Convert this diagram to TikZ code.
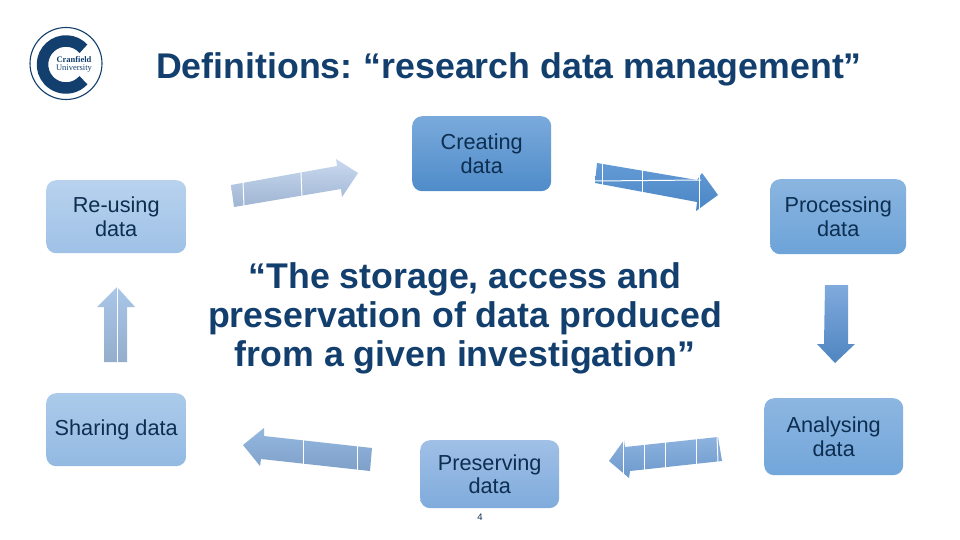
\documentclass[tikz,border=0pt]{standalone}
\usepackage{fontspec}
\setmainfont[Ligatures=NoCommon]{Liberation Sans}
\newfontfamily\logofont{Liberation Serif}
\definecolor{navy}{HTML}{123F6D}
\definecolor{boxtext}{HTML}{0D2E50}
\definecolor{ca}{HTML}{7AAADC}\definecolor{cb}{HTML}{4F8CC9}
\definecolor{pa}{HTML}{8AB5E0}\definecolor{pb}{HTML}{6DA3D8}
\definecolor{aa}{HTML}{8DB6E1}\definecolor{ab}{HTML}{72A6DA}
\definecolor{va}{HTML}{A0C0E6}\definecolor{vb}{HTML}{7FABDC}
\definecolor{sa}{HTML}{ACCBEA}\definecolor{sb}{HTML}{93B9E2}
\definecolor{ra}{HTML}{B8D2EE}\definecolor{rb}{HTML}{9FC1E6}
\definecolor{aonea}{HTML}{C9D9EF}\definecolor{aoneb}{HTML}{9FB5D3}
\definecolor{atwoa}{HTML}{639BD5}\definecolor{atwob}{HTML}{4A86C5}
\definecolor{athreea}{HTML}{80AADD}\definecolor{athreeb}{HTML}{4F85C0}
\definecolor{afoura}{HTML}{8DB2DE}\definecolor{afourb}{HTML}{6C99CC}
\definecolor{afivea}{HTML}{94B8E0}\definecolor{afiveb}{HTML}{7FA0C8}
\definecolor{asixa}{HTML}{A9C6E8}\definecolor{asixb}{HTML}{94ADCC}
\tikzset{
  flow/.style={rounded corners=10pt, inner sep=0pt, text=boxtext, align=center,
    font=\fontsize{21.7}{23.5}\selectfont, anchor=north west},
  sep/.style={draw=white, line width=1pt},
  headline/.style={text=navy, font=\bfseries\fontsize{35.7}{40}\selectfont, align=center, inner sep=0pt},
  quoteline/.style={text=navy, font=\bfseries\fontsize{35.7}{39}\selectfont, align=center, inner sep=0pt},
}
\begin{document}
\begin{tikzpicture}[x=1pt,y=-1pt]
\useasboundingbox (0,0) rectangle (960,540);
\fill[white] (0,0) rectangle (960,540);
% logo
\draw[navy, line width=1.1pt] (66,63.5) circle (36);
\draw[navy, line width=11.5pt] ({66+23.5*cos(42)},{64.5-23.5*sin(42)}) arc[start angle=-42, end angle=-318, radius=23.5];
\node[text=navy, inner sep=0pt, font=\logofont\bfseries\fontsize{8.5}{8}\selectfont] (logoa) at (74,60) {Cranfield};
\node[text=navy, inner sep=0pt, font=\logofont\fontsize{8.5}{8}\selectfont] (logob) at (74,69) {University};
% title
\node[headline] (title) at (509,69) {Definitions:\kern-2pt{} “research data management”};
% boxes
\node[flow, top color=ca, bottom color=cb, minimum width=139pt, minimum height=75pt] (creating) at (412,116) {Creating\\data};
\node[flow, top color=pa, bottom color=pb, minimum width=136pt, minimum height=75pt] (processing) at (770,179) {Processing\\data};
\node[flow, top color=ra, bottom color=rb, minimum width=140pt, minimum height=73pt] (reusing) at (46,180) {Re-using\\data};
\node[flow, top color=sa, bottom color=sb, minimum width=140pt, minimum height=73pt] (sharing) at (46,393) {\raisebox{-2pt}{Sharing data}};
\node[flow, top color=va, bottom color=vb, minimum width=139pt, minimum height=68pt] (preserving) at (420,440) {Preserving\\data};
\node[flow, top color=aa, bottom color=ab, minimum width=139pt, minimum height=77pt] (analysing) at (764,398) {Analysing\\data};
% quote
\node[quoteline] (quote) at (465,318) {“The storage, access and\\preservation of data produced\\from a given investigation”};
% page number
\node[text=boxtext, inner sep=0pt, font=\fontsize{9.5}{10}\selectfont] (pagenum) at (480,517) {4};
% arrow re-using -> creating
\shade[top color=aonea, bottom color=aoneb]
  (231,185) -- (337,166) -- (336,159) -- (358,173) -- (342,197) -- (341,189) -- (234,207) -- cycle;
\draw[sep] (243,182) -- (244,206);
\draw[sep] (301,172) -- (302,197);
% arrow creating -> processing
\shade[top color=atwoa, bottom color=atwob]
  (597,163) -- (697,180) -- (702,173) -- (718,195) -- (696,211) -- (697,202) -- (595,183) -- cycle;
\draw[sep] (602,162) -- (602,186);
\draw[sep] (642,169) -- (642,194);
\draw[sep] (699,174) -- (699,211);
\draw[sep] (595,181) -- (701,180);
% arrow processing -> analysing
\shade[top color=athreea, bottom color=athreeb]
  (825,285) -- (848,285) -- (848,344) -- (855,344) -- (835,363) -- (817,344) -- (824,344) -- cycle;
% arrow analysing -> preserving
\shade[top color=afoura, bottom color=afourb]
  (718,437) -- (722,461) -- (630,471) -- (629,478) -- (609,461) -- (624,440) -- (625,447) -- cycle;
\draw[sep] (623,439) -- (623,478);
\draw[sep] (644,444) -- (644,470);
\draw[sep] (665,441) -- (665,467);
\draw[sep] (696,439) -- (696,464);
\draw[sep] (717,436) -- (718,462);
% arrow preserving -> sharing
\shade[top color=afivea, bottom color=afiveb]
  (372,448) -- (370,471) -- (261,459) -- (260,466) -- (243,445) -- (264,428) -- (264,436) -- cycle;
\draw[sep] (303,439) -- (303,464);
\draw[sep] (357,445) -- (357,471);
% arrow sharing -> re-using
\shade[top color=asixa, bottom color=asixb]
  (104,362) -- (127,362) -- (127,307) -- (135,307) -- (117,287) -- (97,307) -- (104,307) -- cycle;
\draw[sep] (117,287) -- (117,363);
\end{tikzpicture}
\end{document}
